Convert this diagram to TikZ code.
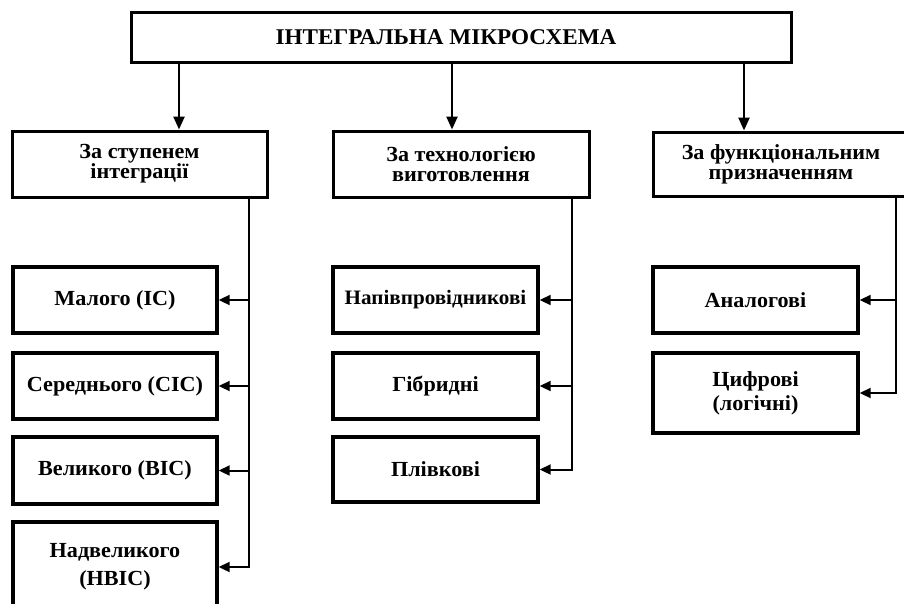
\documentclass[tikz,border=0pt]{standalone}
\usepackage{fontspec}
\setmainfont{Liberation Serif}[FakeStretch=1.03]
\usetikzlibrary{arrows.meta}
\begin{document}
\begin{tikzpicture}[x=1pt,y=-1pt,
  box/.style={draw,line width=3pt,rectangle,inner sep=0pt,align=center,
    font=\bfseries\fontsize{21.5pt}{20pt}\selectfont},
  item/.style={box,line width=3.4pt,minimum width=204pt},
  conn/.style={line width=2pt},
  arr/.style={conn,-{Triangle[length=11pt,width=10pt]}},
  darr/.style={line width=2.4pt,-{Triangle[length=13pt,width=11pt]}},
]
\useasboundingbox (0,0) rectangle (904,603);
\begin{scope}
\clip (0,0) rectangle (904,603);
% title
\node[box,minimum width=660pt,minimum height=50pt,font=\bfseries\fontsize{22.5pt}{22pt}\selectfont] (top) at (461,37) {ІНТЕГРАЛЬНА МІКРОСХЕМА\hspace*{30pt}};
% categories
\node[box,minimum width=255pt,minimum height=66pt] (cat1) at (139.5,164) {За ступенем\\інтеграції};
\node[box,minimum width=256pt,minimum height=66pt] (cat2) at (461,164) {За технологією\\виготовлення};
\node[box,minimum width=255pt,minimum height=64pt] (cat3) at (781,164) {За функціональним\\призначенням};
% helper coordinates
\coordinate (a1) at (179,100);
\coordinate (a2) at (452,100);
\coordinate (a3) at (744,100);
\coordinate (t1) at (249,250);
\coordinate (t2) at (572,250);
\coordinate (t3) at (896,250);
% left column
\node[item,minimum height=66pt] (l1) at (115,300) {Малого (ІС)};
\node[item,minimum height=66pt] (l2) at (115,386) {Середнього (СІС)};
\node[item,minimum height=67pt] (l3) at (115,470.5) {Великого (ВІС)};
\node[item,minimum height=90pt,font=\bfseries\fontsize{21.5pt}{28pt}\selectfont] (l4) at (115,567) {Надвеликого\\(НВІС)};
% middle column
\node[item,minimum width=205pt,minimum height=66pt,font=\bfseries\fontsize{20.5pt}{20pt}\selectfont] (m1) at (435.5,300) {Напівпровідникові};
\node[item,minimum width=205pt,minimum height=66pt] (m2) at (435.5,386) {Гібридні};
\node[item,minimum width=205pt,minimum height=65pt] (m3) at (435.5,469.5) {Плівкові};
% right column
\node[item,minimum width=205pt,minimum height=66pt] (r1) at (755.5,300) {Аналогові};
\node[item,minimum width=205pt,minimum height=80pt,font=\bfseries\fontsize{21.5pt}{24pt}\selectfont] (r2) at (755.5,393) {Цифрові\\(логічні)};
% arrows from title
\draw[darr] (top.south -| a1) -- (cat1.north -| a1);
\draw[darr] (top.south -| a2) -- (cat2.north -| a2);
\draw[darr] (top.south -| a3) -- (cat3.north -| a3);
% trunks
\draw[arr] (cat1.south -| t1) |- (l4.east);
\draw[arr] (t1 |- l1.east) -- (l1.east);
\draw[arr] (t1 |- l2.east) -- (l2.east);
\draw[arr] (t1 |- l3.east) -- (l3.east);
\draw[arr] (cat2.south -| t2) |- (m3.east);
\draw[arr] (t2 |- m1.east) -- (m1.east);
\draw[arr] (t2 |- m2.east) -- (m2.east);
\draw[arr] (cat3.south -| t3) |- (r2.east);
\draw[arr] (t3 |- r1.east) -- (r1.east);
\end{scope}
\end{tikzpicture}
\end{document}
